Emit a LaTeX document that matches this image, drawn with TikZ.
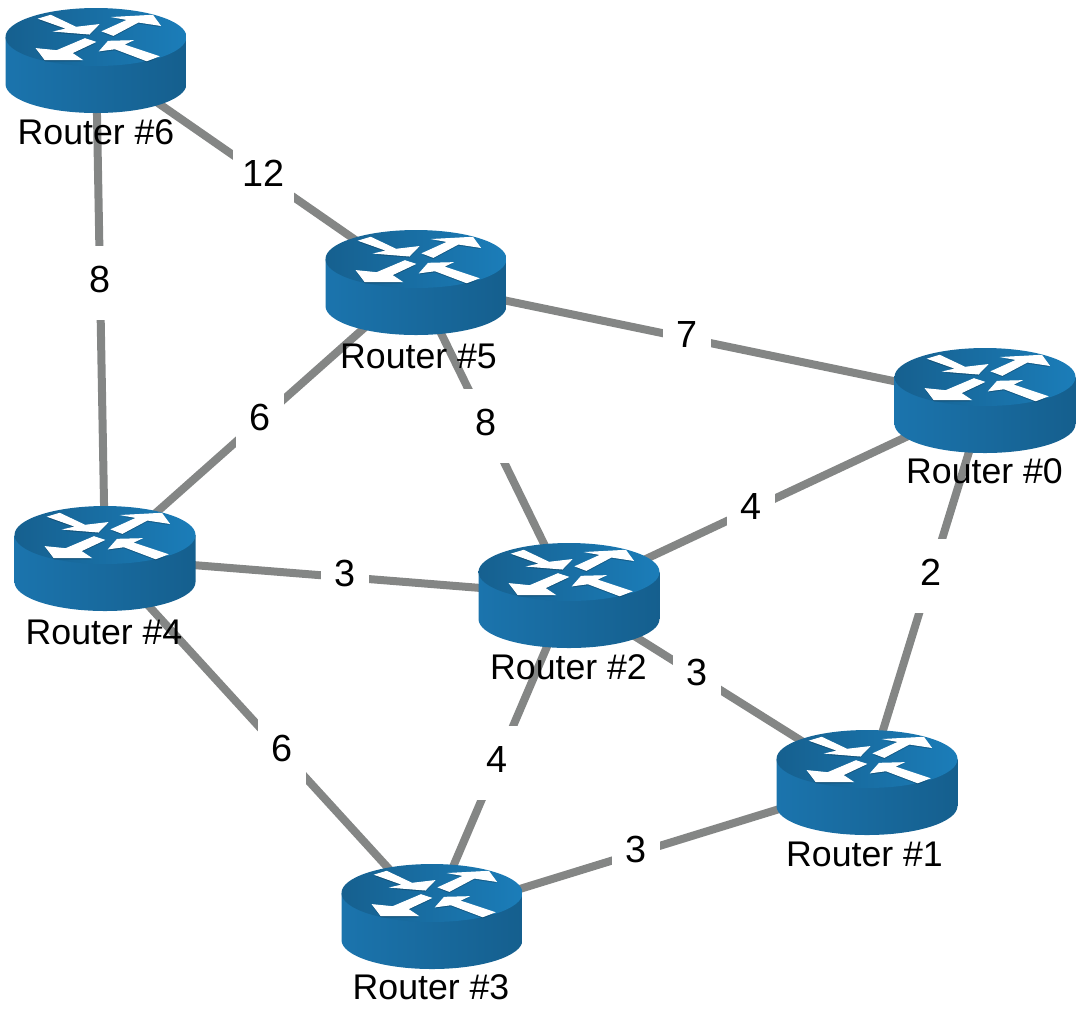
\documentclass[tikz,border=0pt]{standalone}
\usepackage{fontspec}
\setmainfont{Liberation Sans}
\definecolor{linkgray}{HTML}{848685}
\definecolor{bodyleft}{HTML}{1B74AD}
\definecolor{bodymid}{HTML}{1B7AB6}
\definecolor{bodyright}{HTML}{155F8E}
\definecolor{topleft}{HTML}{16608F}
\definecolor{topright}{HTML}{1B7DB9}
\tikzset{
  link/.style={draw=linkgray,line width=0.16cm},
  weight/.style={fill=white,inner xsep=0.19cm,inner ysep=0pt,minimum width=0.96cm,minimum height=1.48cm,text depth=0.14cm,font=\fontsize{21.5}{23}\selectfont},
  routerlabel/.style={inner sep=0pt,font=\fontsize{20.3}{22}\selectfont},
  routerarrow/.style={fill=white,draw=white,line width=0.02cm},
  routershadow/.style={fill=black,fill opacity=0.22,draw=none},
  pics/router/.style={code={
    % Body
    \shade[left color=bodyleft,middle color=bodymid,right color=bodyright]
      (-90.5,-23) -- (-90.5,24) arc[start angle=180,end angle=0,x radius=90.5,y radius=29] -- (90.5,-23) -- cycle;
    \shade[left color=topleft,right color=topright] (0,-23) ellipse[x radius=90.5,y radius=29];
    % Arrows
    \foreach \look/\off in {routershadow/1.6,routerarrow/0} {
      \path[\look,shift={(0,\off)}] (-56.7,-41.3) -- (-45.3,-44.7) -- (-20,-32.7) -- (2.3,-35.3) -- (-6.7,-26) -- (-40,-28.7) -- (-28.7,-31.3) -- cycle;
      \path[\look,shift={(0,\off)}] (6.7,-28.7) -- (32.3,-40.3) -- (19,-42.7) -- (56.7,-44.7) -- (64,-34.7) -- (42.3,-38) -- (17.3,-24.7) -- cycle;
      \path[\look,shift={(0,\off)}] (-11,-21.3) -- (-1,-18) -- (-24.3,-7) -- (-14.3,-0.3) -- (-51,-0.3) -- (-59.3,-11.3) -- (-39.3,-9.3) -- cycle;
      \path[\look,shift={(0,\off)}] (62.3,-3.7) -- (50.7,0.7) -- (19,-11.3) -- (4,-9.3) -- (12.3,-18.7) -- (35.7,-19.3) -- (27.3,-15.3) -- cycle;
    }
  }}
}
\begin{document}
\begin{tikzpicture}[x=0.02cm,y=-0.02cm]
\useasboundingbox (0,0) rectangle (1081,1012);
% Routers
\coordinate (R0) at (985,400);
\coordinate (R1) at (867,782);
\coordinate (R2) at (569,595);
\coordinate (R3) at (432,916);
\coordinate (R4) at (105,558);
\coordinate (R5) at (416,282);
\coordinate (R6) at (96,60);
% Links
\foreach \from/\to/\cost/\where in {R6/R5/12/.524, R6/R4/8/.448, R5/R0/7/.476, R5/R4/6/.502, R5/R2/8/.46, R0/R2/4/.5625, R0/R1/2/.461, R4/R2/3/.517, R2/R1/3/.4295, R2/R3/4/.523, R3/R1/3/.47, R4/R3/6/.54}
  \draw[link] (\from) -- node[weight,pos=\where]{\cost} (\to);
% Router pictures on top
\foreach \n/\dx/\dy in {0/-0.5/71, 1/-2.5/72, 2/-0.5/72, 3/-1/71.5, 4/-1/74, 5/2.5/74, 6/0/72} {
  \pic at (R\n) {router};
  \node[routerlabel] (L\n) at ([shift={(\dx,\dy)}]R\n) {Router \#\n};
}
\end{tikzpicture}
\end{document}
